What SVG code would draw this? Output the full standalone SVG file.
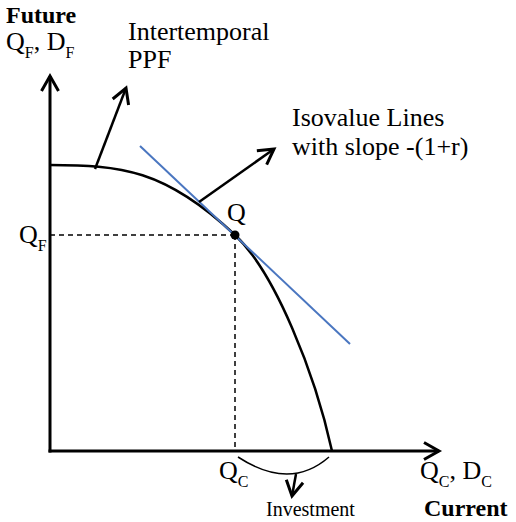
<svg xmlns="http://www.w3.org/2000/svg" width="516" height="522" viewBox="0 0 516 522">
<style>
text{font-family:"Liberation Serif","Times New Roman",serif;fill:#000}
.lbl{font-size:26px}
.b{font-weight:bold;font-size:24px}
.sub{font-size:16px}
.ln{fill:none;stroke:#000;stroke-width:2.5}
.ax{fill:none;stroke:#000;stroke-width:3}
.dash{fill:none;stroke:#000;stroke-width:1.5;stroke-dasharray:5 4}
</style>
<defs>
<marker id="ah" markerUnits="userSpaceOnUse" markerWidth="24" markerHeight="24" viewBox="-18 -12 24 24" refX="0" refY="0" orient="auto" overflow="visible">
<path d="M-15,-8.5 L0,0 L-15,8.5" fill="none" stroke="#000" stroke-width="3" stroke-linejoin="miter"/>
</marker>
</defs>
<g id="axes">
<line class="ax" x1="50" y1="452.5" x2="50" y2="76" marker-end="url(#ah)"/>
<line class="ax" x1="48.5" y1="451" x2="439" y2="451" marker-end="url(#ah)"/>
</g>
<g id="guides">
<line class="dash" x1="50" y1="235" x2="235" y2="235"/>
<line class="dash" x1="235" y1="235" x2="235" y2="451"/>
</g>
<g id="ppf">
<path class="ln" d="M50,165 C120,165 165,169 235,235 C275,272.7 315,373 332,451"/>
</g>
<g id="isovalue">
<line x1="140" y1="146" x2="350" y2="344" stroke="#4a76c0" stroke-width="2"/>
</g>
<g id="point-q">
<circle cx="235" cy="235" r="4.5" fill="#000"/>
<text class="lbl" x="227" y="221">Q</text>
</g>
<g id="connectors">
<line class="ln" x1="95" y1="169" x2="126" y2="88" marker-end="url(#ah)"/>
<line class="ln" x1="199" y1="202" x2="274" y2="149" marker-end="url(#ah)"/>
<path d="M238,457 Q290,491 329,457" fill="none" stroke="#000" stroke-width="1.5"/>
<line class="ln" x1="296" y1="474" x2="292" y2="496" marker-end="url(#ah)"/>
</g>
<g id="labels">
<text class="b" x="6" y="23">Future</text>
<text class="lbl" x="6" y="50">Q<tspan class="sub" dy="8">F</tspan><tspan dy="-8">, D</tspan><tspan class="sub" dy="8">F</tspan></text>
<text class="lbl" x="128" y="40">Intertemporal</text>
<text class="lbl" x="128" y="68">PPF</text>
<text class="lbl" x="292" y="126">Isovalue Lines</text>
<text class="lbl" x="292" y="155">with slope -(1+r)</text>
<text class="lbl" x="19" y="243">Q<tspan class="sub" dy="8">F</tspan></text>
<text class="lbl" x="219" y="479">Q<tspan class="sub" dy="8">C</tspan></text>
<text class="lbl" x="420" y="479">Q<tspan class="sub" dy="8">C</tspan><tspan dy="-8">, D</tspan><tspan class="sub" dy="8">C</tspan></text>
<text x="266" y="516" font-size="20">Investment</text>
<text class="b" x="424" y="516" font-size="25">Current</text>
</g>
</svg>
